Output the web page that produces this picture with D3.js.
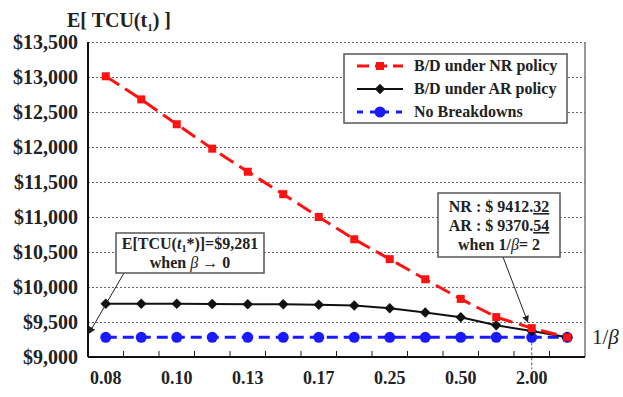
<!DOCTYPE html>
<html>
<head>
<meta charset="utf-8">
<script src="https://cdn.jsdelivr.net/npm/d3@7"></script>
<style>
  body { margin: 0; background: #fff; }
  svg text { font-family: "Liberation Serif", "DejaVu Serif", serif; font-weight: bold; fill: #222; }
</style>
</head>
<body>
<div id="chart"></div>
<script>
// 1/beta categories (beta = 12 ... 0.5, then beta -> 0)
const categories = ["0.08", "0.09", "0.10", "0.11", "0.13", "0.14", "0.17", "0.20", "0.25", "0.33", "0.50", "1.00", "2.00", "inf"];
const tickLabels = ["0.08", "0.10", "0.13", "0.17", "0.25", "0.50", "2.00"];
const nrValues = [13010, 12680, 12325, 11976, 11647, 11326, 11000, 10682, 10398, 10110, 9830, 9570, 9412.32, 9281];
const arValues = [9760, 9760, 9760, 9757, 9755, 9752, 9745, 9735, 9695, 9635, 9568, 9453, 9370.54, 9281];
const noBreakdownValues = [9281, 9281, 9281, 9281, 9281, 9281, 9281, 9281, 9281, 9281, 9281, 9281, 9281, 9281];
const yTicks = [9000, 9500, 10000, 10500, 11000, 11500, 12000, 12500, 13000, 13500];

const W = 623, H = 397;
const margin = {top: 42, right: 38, bottom: 40, left: 88};
const innerW = W - margin.left - margin.right;
const innerH = H - margin.top - margin.bottom;
const serif = '"Liberation Serif", "DejaVu Serif", serif';

const svg = d3.select('#chart').append('svg')
  .attr('width', W)
  .attr('height', H)
  .style('font-family', serif);

const defs = svg.append('defs');
defs.append('marker')
  .attr('id', 'arrow')
  .attr('viewBox', '0 0 10 10')
  .attr('refX', 9).attr('refY', 5)
  .attr('markerWidth', 7).attr('markerHeight', 7)
  .attr('orient', 'auto')
  .append('path')
  .attr('d', 'M0,0 L10,5 L0,10 z')
  .attr('fill', '#222');

const g = svg.append('g')
  .attr('transform', `translate(${margin.left},${margin.top})`);

const x = d3.scaleBand()
  .domain(categories)
  .range([0, innerW]);

const y = d3.scaleLinear()
  .domain([9000, 13500])
  .range([innerH, 0]);

const cx = d => x(d) + x.bandwidth() / 2;

// dotted grid lines
g.append('g')
  .attr('class', 'grid')
  .call(d3.axisLeft(y).tickValues(yTicks.slice(1)).tickSize(-innerW).tickFormat(''))
  .call(s => s.select('.domain').remove())
  .selectAll('line')
  .attr('stroke', '#666')
  .attr('stroke-width', 1.2)
  .attr('stroke-dasharray', '2,2');

// right frame
g.append('line')
  .attr('x1', innerW).attr('x2', innerW)
  .attr('y1', 0).attr('y2', innerH)
  .attr('stroke', '#777')
  .attr('stroke-width', 1.5);

// y axis labels
g.append('g')
  .call(d3.axisLeft(y).tickValues(yTicks).tickSize(0).tickPadding(10)
    .tickFormat(d => '$' + d3.format(',')(d)))
  .call(s => s.select('.domain').remove())
  .attr('font-family', serif)
  .selectAll('text')
  .style('font-family', serif)
  .style('font-size', '20px');

// left axis line
g.append('line')
  .attr('x1', 0).attr('x2', 0)
  .attr('y1', 0).attr('y2', innerH)
  .attr('stroke', '#111')
  .attr('stroke-width', 2);

// x axis labels
g.append('g')
  .attr('transform', `translate(0,${innerH})`)
  .call(d3.axisBottom(x).tickValues(tickLabels).tickSize(0).tickPadding(14))
  .call(s => s.select('.domain').remove())
  .attr('font-family', serif)
  .selectAll('text')
  .style('font-family', serif)
  .style('font-size', '18px');

// tick marks between categories
g.append('g')
  .selectAll('line')
  .data(categories.slice(1))
  .join('line')
  .attr('x1', d => x(d)).attr('x2', d => x(d))
  .attr('y1', innerH).attr('y2', innerH - 6)
  .attr('stroke', '#222')
  .attr('stroke-width', 1);

// vertical guide at 1/beta = 2
g.append('line')
  .attr('x1', cx('2.00')).attr('x2', cx('2.00'))
  .attr('y1', y(9281)).attr('y2', innerH + 12)
  .attr('stroke', '#555')
  .attr('stroke-width', 1)
  .attr('stroke-dasharray', '3,2');

// bottom axis line
g.append('line')
  .attr('x1', 0).attr('x2', innerW)
  .attr('y1', innerH).attr('y2', innerH)
  .attr('stroke', '#111')
  .attr('stroke-width', 2);

const line = d3.line()
  .x((d, i) => cx(categories[i]))
  .y(d => y(d));

// No breakdowns (blue)
g.append('path')
  .datum(noBreakdownValues)
  .attr('fill', 'none')
  .attr('stroke', '#1a1aff')
  .attr('stroke-width', 3)
  .attr('stroke-dasharray', '11,6')
  .attr('d', line);
g.append('g').selectAll('circle')
  .data(noBreakdownValues)
  .join('circle')
  .attr('cx', (d, i) => cx(categories[i]))
  .attr('cy', d => y(d))
  .attr('r', 5.5)
  .attr('fill', '#1a1aff');

// AR policy (black)
g.append('path')
  .datum(arValues)
  .attr('fill', 'none')
  .attr('stroke', '#111')
  .attr('stroke-width', 2)
  .attr('d', line);
g.append('g').selectAll('path')
  .data(arValues)
  .join('path')
  .attr('transform', (d, i) => `translate(${cx(categories[i])},${y(d)})`)
  .attr('d', d3.symbol(d3.symbolDiamond2, 70))
  .attr('fill', '#111');

// NR policy (red)
g.append('path')
  .datum(nrValues)
  .attr('fill', 'none')
  .attr('stroke', '#ff1111')
  .attr('stroke-width', 3)
  .attr('stroke-dasharray', '16,7')
  .attr('d', line);
g.append('g').selectAll('rect')
  .data(nrValues)
  .join('rect')
  .attr('x', (d, i) => cx(categories[i]) - 4)
  .attr('y', d => y(d) - 4)
  .attr('width', 8)
  .attr('height', 8)
  .attr('fill', '#ff1111');

// title
const title = svg.append('text')
  .attr('x', 67).attr('y', 27)
  .style('font-size', '20px');
title.append('tspan').text('E[ TCU(t');
title.append('tspan').attr('dy', 4).style('font-size', '11px').text('1');
title.append('tspan').attr('dy', -4).text(') ]');

// 1/beta label
const xl = svg.append('text')
  .attr('x', 592).attr('y', margin.top + y(9281) + 7)
  .style('font-size', '21px');
xl.append('tspan').style('font-weight', 'normal').text('1/');
xl.append('tspan').style('font-style', 'italic').style('font-weight', 'normal').text('β');

// legend
const legendItems = [
  {label: 'B/D under NR policy', color: '#ff1111', dash: '12,6', width: 3, mark: 'square'},
  {label: 'B/D under AR policy', color: '#111', dash: null, width: 2, mark: 'diamond'},
  {label: 'No Breakdowns', color: '#1a1aff', dash: '6,7', width: 3, mark: 'circle'}
];
const legend = svg.append('g').attr('transform', 'translate(344,54)');
legend.append('rect')
  .attr('width', 223).attr('height', 69)
  .attr('fill', '#fff')
  .attr('stroke', '#555')
  .attr('stroke-width', 1.5);
const li = legend.selectAll('g.item')
  .data(legendItems)
  .join('g')
  .attr('class', 'item')
  .attr('transform', (d, i) => `translate(0,${12 + i * 23})`);
li.append('line')
  .attr('x1', 13).attr('x2', 59)
  .attr('stroke', d => d.color)
  .attr('stroke-width', d => d.width)
  .attr('stroke-dasharray', d => d.dash);
li.each(function(d) {
  const s = d3.select(this);
  if (d.mark === 'square') {
    s.append('rect').attr('x', 32).attr('y', -4).attr('width', 8).attr('height', 8).attr('fill', d.color);
  } else if (d.mark === 'diamond') {
    s.append('path').attr('transform', 'translate(36,0)').attr('d', d3.symbol(d3.symbolDiamond2, 70)).attr('fill', d.color);
  } else {
    s.append('circle').attr('cx', 36).attr('r', 5.5).attr('fill', d.color);
  }
});
li.append('text')
  .attr('x', 70).attr('y', 5)
  .style('font-size', '16px')
  .text(d => d.label);

// annotation: beta -> 0
svg.append('line')
  .attr('x1', 124).attr('y1', 273)
  .attr('x2', margin.left + 1).attr('y2', margin.top + y(9281) - 4)
  .attr('stroke', '#222')
  .attr('stroke-width', 1)
  .attr('marker-end', 'url(#arrow)');
const a1 = svg.append('g');
a1.append('rect')
  .attr('x', 116).attr('y', 233).attr('width', 148).attr('height', 40)
  .attr('fill', '#fff').attr('stroke', '#555').attr('stroke-width', 1.5);
const a1t = a1.append('text').attr('x', 190).attr('y', 249).attr('text-anchor', 'middle').style('font-size', '16px');
a1t.append('tspan').text('E[TCU(');
a1t.append('tspan').style('font-style', 'italic').text('t');
a1t.append('tspan').attr('dy', 3).style('font-size', '10px').text('1');
a1t.append('tspan').attr('dy', -3).text('*)]=$9,281');
const a1t2 = a1.append('text').attr('x', 190).attr('y', 268).attr('text-anchor', 'middle').style('font-size', '16px');
a1t2.append('tspan').text('when ');
a1t2.append('tspan').style('font-style', 'italic').style('font-weight', 'normal').text('β');
a1t2.append('tspan').text(' → 0');

// annotation: 1/beta = 2
svg.append('line')
  .attr('x1', 503).attr('y1', 257)
  .attr('x2', margin.left + cx('2.00') - 4).attr('y2', margin.top + y(9412.32) - 6)
  .attr('stroke', '#222')
  .attr('stroke-width', 1)
  .attr('marker-end', 'url(#arrow)');
const a2 = svg.append('g');
a2.append('rect')
  .attr('x', 438).attr('y', 193).attr('width', 122).attr('height', 64)
  .attr('fill', '#fff').attr('stroke', '#555').attr('stroke-width', 1.5);
const a2l1 = a2.append('text').attr('x', 499).attr('y', 212).attr('text-anchor', 'middle').style('font-size', '16px');
a2l1.append('tspan').text('NR : $ 9412.');
a2l1.append('tspan').style('text-decoration', 'underline').text('32');
const a2l2 = a2.append('text').attr('x', 499).attr('y', 231).attr('text-anchor', 'middle').style('font-size', '16px');
a2l2.append('tspan').text('AR : $ 9370.');
a2l2.append('tspan').style('text-decoration', 'underline').text('54');
const a2l3 = a2.append('text').attr('x', 499).attr('y', 250).attr('text-anchor', 'middle').style('font-size', '16px');
a2l3.append('tspan').text('when 1/');
a2l3.append('tspan').style('font-style', 'italic').style('font-weight', 'normal').text('β');
a2l3.append('tspan').text('= 2');
</script>
</body>
</html>
